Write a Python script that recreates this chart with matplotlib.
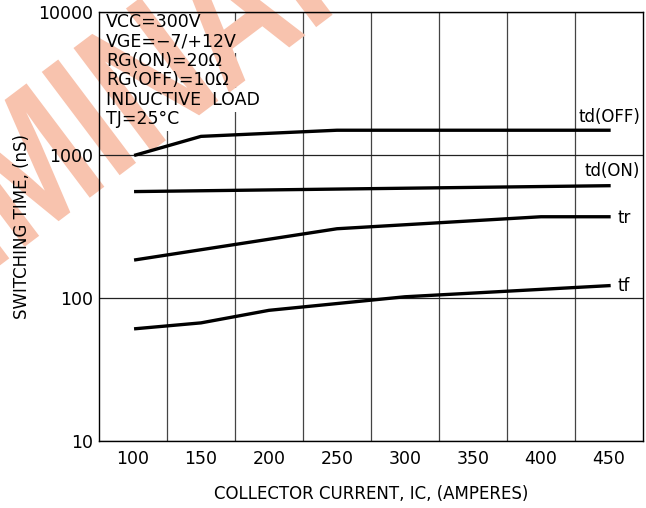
import matplotlib
matplotlib.use('Agg')
import matplotlib.pyplot as plt
from matplotlib.ticker import FixedLocator, NullLocator, FuncFormatter
from matplotlib.textpath import TextPath, text_to_path
from matplotlib.font_manager import FontProperties
from matplotlib.patches import PathPatch
from matplotlib.transforms import Affine2D
import numpy as np

# switching time vs collector current
td_off_x = [102, 150, 250, 450]
td_off_y = [1000, 1350, 1490, 1490]
td_on_x = [102, 450]
td_on_y = [555, 610]
tr_x = [102, 250, 400, 450]
tr_y = [185, 305, 370, 370]
tf_x = [102, 150, 200, 300, 450]
tf_y = [61, 67, 82, 102, 122]

x_ticks = [100, 150, 200, 250, 300, 350, 400, 450]
x_grid = [125, 175, 225, 275, 325, 375, 425]
y_ticks = [10, 100, 1000, 10000]

conditions = ['VCC=300V', 'VGE=\u22127/+12V', 'RG(ON)=20\u03a9', 'RG(OFF)=10\u03a9',
              'INDUCTIVE  LOAD', 'TJ=25\u00b0C']

W, H = 646, 508
fig = plt.figure(figsize=(W/100, H/100), dpi=100)
ax = fig.add_axes([99/W, 1-441/H, 544/W, 429/H])
ax.set_yscale('log')
ax.set_xlim(75, 475)
ax.set_ylim(10, 10000)

ax.xaxis.set_major_locator(FixedLocator(x_ticks))
ax.xaxis.set_minor_locator(FixedLocator(x_grid))
ax.yaxis.set_major_locator(FixedLocator(y_ticks))
ax.yaxis.set_minor_locator(NullLocator())
ax.yaxis.set_major_formatter(FuncFormatter(lambda v, p: '%d' % v))
ax.tick_params(which='both', length=0, labelsize=12.5, colors='black')
ax.tick_params(axis='x', pad=6.5)
ax.tick_params(axis='y', pad=4)
ax.grid(axis='x', which='minor', color='#444444', lw=0.9)
ax.grid(axis='y', which='major', color='#222222', lw=0.9)
# vertical grid under the text boxes, horizontal grid over the watermark
ax.xaxis.set_zorder(0.05)
ax.yaxis.set_zorder(0.5)
for s in ax.spines.values():
    s.set_linewidth(1.0)

# PRELIMINARY watermark (condensed bold, rotated)
fp = FontProperties(family='Liberation Sans', weight='bold', size=1)
word = 'PRELIMINARY'
em = 188.0
sx = 0.76
ang = 37.0
rad = np.radians(ang)
b = np.array([np.cos(rad), np.sin(rad)])
pivot = np.array([96.0, H - 193.0])   # foot of the M's right stem
w_prelim = text_to_path.get_text_width_height_descent('PRELIM', fp, ismath=False)[0]
origin = pivot - (w_prelim - 0.14) * em * sx * b
tp = TextPath((0, 0), word, prop=fp)
trf = (Affine2D().scale(em * sx, em).rotate_deg(ang).translate(*origin).scale(1/100)
       + fig.dpi_scale_trans)
ax.add_patch(PathPatch(tp, transform=trf, facecolor='#f8c3ae', edgecolor='none',
                       clip_on=False, zorder=0.2))

lw = 2.4
ax.plot(td_off_x, td_off_y, color='black', lw=lw)
ax.plot(td_on_x, td_on_y, color='black', lw=lw)
ax.plot(tr_x, tr_y, color='black', lw=lw)
ax.plot(tf_x, tf_y, color='black', lw=lw)

ax.text(473, 1840, 'td(OFF)', ha='right', va='center', fontsize=12)
ax.text(473, 770, 'td(ON)', ha='right', va='center', fontsize=12)
ax.text(456, 365, 'tr', ha='left', va='center', fontsize=12)
ax.text(456, 122, 'tf', ha='left', va='center', fontsize=12)

for i, line in enumerate(conditions):
    pos = (106/W, 1-(22 + i*19.5)/H)
    ax.text(*pos, line, transform=fig.transFigure, ha='left', va='center',
            fontsize=12.5, color='none', zorder=0.1,
            bbox=dict(boxstyle='square,pad=0.15', fc='white', ec='none'))
    ax.text(*pos, line, transform=fig.transFigure, ha='left', va='center',
            fontsize=12.5, zorder=3)

ax.set_xlabel('COLLECTOR CURRENT, IC, (AMPERES)', fontsize=12, labelpad=12)
ax.set_ylabel('SWITCHING TIME, (nS)', fontsize=12, labelpad=5.5)

fig.savefig('out.png', dpi=100)
